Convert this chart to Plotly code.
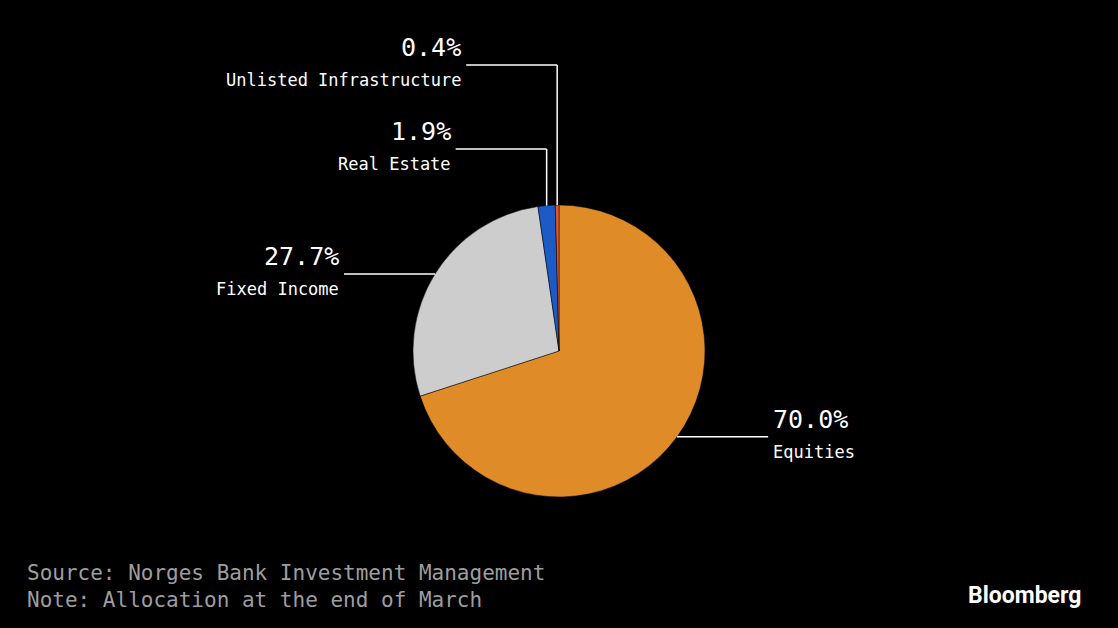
import math
import plotly.graph_objects as go

labels = ["Equities", "Fixed Income", "Real Estate", "Unlisted Infrastructure"]
values = [70.0, 27.7, 1.9, 0.4]
colors = ["#DE8B28", "#CDCDCD", "#1C5BC6", "#E2572B"]
label_y_px = [None, None, 149, 65]  # elbow label heights (px from top), None = horizontal

W, H = 1118, 628
cx, cy, r = 559, 351, 146

fig = go.Figure(go.Pie(
    labels=labels, values=values, sort=False, direction="clockwise", rotation=0,
    marker=dict(colors=colors, line=dict(color="#000000", width=0.5)),
    textinfo="none", hoverinfo="label+percent", showlegend=False,
    domain=dict(x=[(cx - r) / W, (cx + r) / W], y=[1 - (cy + r) / H, 1 - (cy - r) / H]),
))

shapes, annots = [], []
total = sum(values)
cum = 0
for lab, v, ly in zip(labels, values, label_y_px):
    mid = (cum + v / 2) / total * 2 * math.pi
    cum += v
    px = cx + r * math.sin(mid)
    py = cy - r * math.cos(mid)
    right = math.sin(mid) > 0
    ty = py if ly is None else ly
    if ly is not None:
        shapes.append(dict(type="line", xref="paper", yref="paper", x0=px / W, x1=px / W,
                           y0=1 - py / H, y1=1 - ty / H, line=dict(color="white", width=1.5)))
    ex = px + 91 if right else px - 91
    shapes.append(dict(type="line", xref="paper", yref="paper", x0=px / W, x1=ex / W,
                       y0=1 - ty / H, y1=1 - ty / H, line=dict(color="white", width=1.5)))
    tx = ex + 3 if right else ex - 3
    anchor = "left" if right else "right"
    annots.append(dict(xref="paper", yref="paper", x=tx / W, y=1 - (ty - 17) / H, text=f"{v:.1f}%",
                       showarrow=False, xanchor=anchor, yanchor="middle",
                       font=dict(size=25, color="white", family="DejaVu Sans Mono")))
    annots.append(dict(xref="paper", yref="paper", x=tx / W, y=1 - (ty + 15) / H, text=lab,
                       showarrow=False, xanchor=anchor, yanchor="middle",
                       font=dict(size=17, color="white", family="DejaVu Sans Mono")))

annots += [
    dict(xref="paper", yref="paper", x=25 / W, y=1 - 573 / H, text="Source: Norges Bank Investment Management",
         showarrow=False, xanchor="left", yanchor="middle", font=dict(size=21, color="#9E9E9E", family="DejaVu Sans Mono")),
    dict(xref="paper", yref="paper", x=25 / W, y=1 - 600 / H, text="Note: Allocation at the end of March",
         showarrow=False, xanchor="left", yanchor="middle", font=dict(size=21, color="#9E9E9E", family="DejaVu Sans Mono")),
    dict(xref="paper", yref="paper", x=1083 / W, y=1 - 595 / H, text="<b>Bloomberg</b>",
         showarrow=False, xanchor="right", yanchor="middle", font=dict(size=23, color="white", family="Roboto")),
]

fig.update_layout(width=W, height=H, paper_bgcolor="black", plot_bgcolor="black",
                  margin=dict(l=0, r=0, t=0, b=0), shapes=shapes, annotations=annots)
fig.write_html("out.html", config={"displayModeBar": False})

with open("out.html", encoding="utf-8") as f:
    html = f.read()
html = html.replace("<body>", '<body style="margin:0;background:#000;overflow:hidden">', 1)
with open("out.html", "w", encoding="utf-8") as f:
    f.write(html)
